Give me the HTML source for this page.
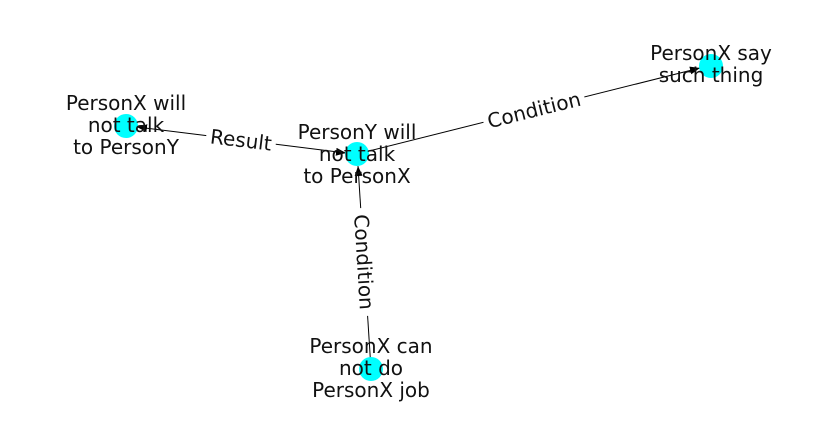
<!DOCTYPE html>
<html><head><meta charset="utf-8"><style>
html,body{margin:0;padding:0;background:#fff;}
svg{display:block;}
text{font-family:"DejaVu Sans","Liberation Sans",sans-serif;font-size:20px;fill:#111;}
</style></head><body>
<svg width="837" height="434" viewBox="0 0 837 434" xmlns="http://www.w3.org/2000/svg">
<defs>
<marker id="ah" markerWidth="10" markerHeight="8" refX="10" refY="4" orient="auto" markerUnits="userSpaceOnUse">
<path d="M0,0 L10,4 L0,8 Z" fill="#000"/>
</marker>
<marker id="as" markerWidth="10" markerHeight="8" refX="0" refY="4" orient="auto" markerUnits="userSpaceOnUse">
<path d="M10,0 L0,4 L10,8 Z" fill="#000"/>
</marker>
</defs>
<g stroke="#000" stroke-width="1" fill="none">
<line x1="137" y1="127" x2="346" y2="153" marker-start="url(#as)" marker-end="url(#ah)"/>
<line x1="357" y1="154" x2="700" y2="68" marker-end="url(#ah)"/>
<line x1="371" y1="369" x2="358" y2="166" marker-end="url(#ah)"/>
</g>
<g fill="#00ffff">
<circle cx="126" cy="126" r="12"/>
<circle cx="357" cy="154" r="12"/>
<circle cx="711" cy="66" r="12"/>
<circle cx="371" cy="369" r="12"/>
</g>
<g text-anchor="middle">
<text x="126" y="110">PersonX will</text>
<text x="126" y="132">not talk</text>
<text x="126" y="154">to PersonY</text>
<text x="357" y="139">PersonY will</text>
<text x="357" y="161">not talk</text>
<text x="357" y="183">to PersonX</text>
<text x="711" y="60">PersonX say</text>
<text x="711" y="82">such thing</text>
<text x="371" y="353">PersonX can</text>
<text x="371" y="375">not do</text>
<text x="371" y="397">PersonX job</text>
</g>
<g text-anchor="middle">
<g transform="translate(241,140) rotate(6.9)">
<rect x="-35" y="-12" width="70" height="25" fill="#fff"/>
<text x="0" y="7">Result</text>
</g>
<g transform="translate(534,110) rotate(-14)">
<rect x="-52" y="-12" width="104" height="25" fill="#fff"/>
<text x="0" y="7">Condition</text>
</g>
<g transform="translate(364,262) rotate(86.5)">
<rect x="-54" y="-12" width="108" height="25" fill="#fff"/>
<text x="0" y="7">Condition</text>
</g>
</g>
</svg>
</body></html>
